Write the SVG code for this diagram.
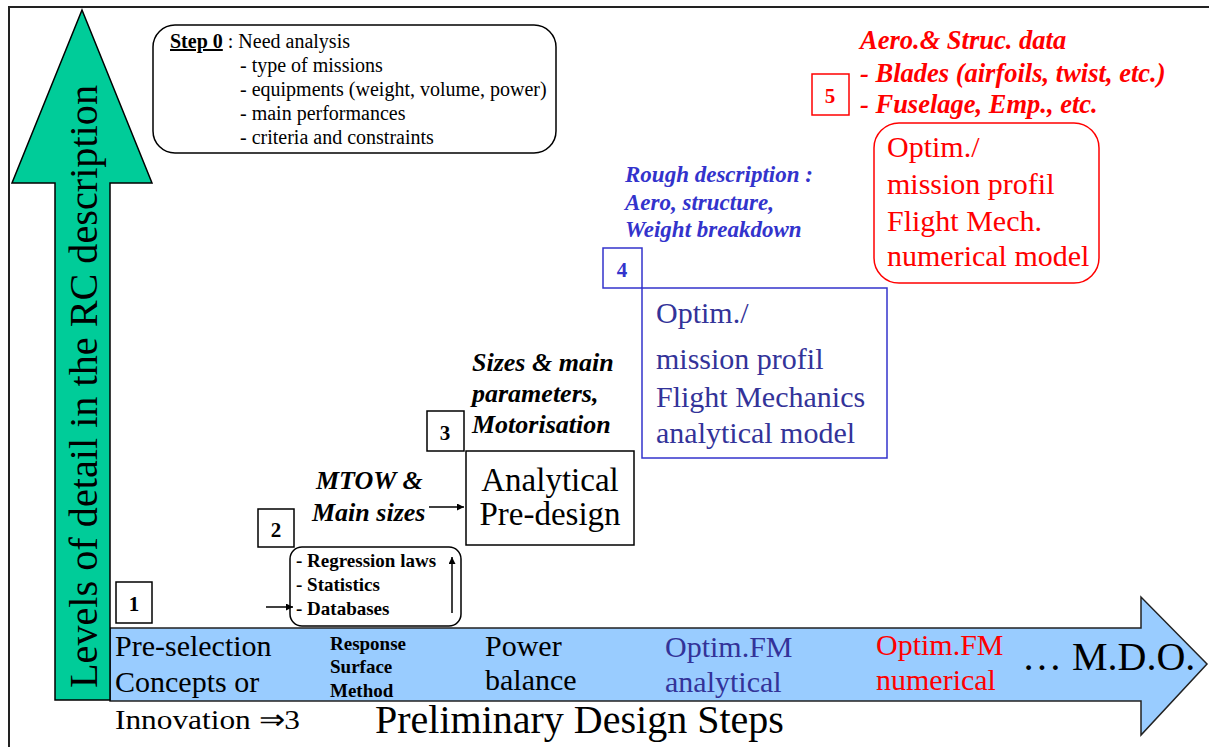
<svg xmlns="http://www.w3.org/2000/svg" width="1209" height="747" viewBox="0 0 1209 747" font-family="Liberation Serif, Times New Roman, serif">
  <style>
    .small { font-size: 20px; fill: #000; }
    .num { font-size: 21px; font-weight: bold; text-anchor: middle; }
    .bi { font-weight: bold; font-style: italic; }
    .big { font-size: 30px; }
    .blue { fill: #333399; }
    .red { fill: #ff0000; }
    .box { fill: #fff; stroke: #000; stroke-width: 1.5; }
    .conn { stroke: #000; stroke-width: 1.5; fill: none; }
  </style>
  <defs>
    <marker id="head" viewBox="0 0 10 10" refX="10" refY="5" markerWidth="7" markerHeight="7" orient="auto" markerUnits="userSpaceOnUse">
      <path d="M0,0 L10,5 L0,10 z" fill="#000"/>
    </marker>
  </defs>

  <rect width="1209" height="747" fill="#fff"/>
  <!-- page frame -->
  <rect x="9" y="7" width="1220" height="760" fill="none" stroke="#222" stroke-width="2"/>

  <!-- horizontal axis: design steps -->
  <g id="axis-steps">
    <polygon points="110,628 1141,628 1141,597 1207,664 1141,735 1141,701 110,701" fill="#99ccff" stroke="#222" stroke-width="1.5"/>
    <text x="115" y="656" class="big">Pre-selection</text>
    <text x="115" y="692" class="big">Concepts or</text>
    <text x="115" y="729" font-size="28" textLength="185" lengthAdjust="spacingAndGlyphs">Innovation ⇒3</text>
    <text x="330" y="650" font-size="19" font-weight="bold">Response</text>
    <text x="330" y="673" font-size="19" font-weight="bold">Surface</text>
    <text x="330" y="697" font-size="19" font-weight="bold">Method</text>
    <text x="485" y="656" class="big">Power</text>
    <text x="485" y="690" class="big">balance</text>
    <text x="665" y="657" class="big blue">Optim.FM</text>
    <text x="665" y="692" class="big blue">analytical</text>
    <text x="876" y="655" class="big red">Optim.FM</text>
    <text x="876" y="690" class="big red">numerical</text>
    <text x="1022" y="670" font-size="40">… M.D.O.</text>
    <text x="375" y="733" font-size="40">Preliminary Design Steps</text>
  </g>

  <!-- vertical axis: level of detail -->
  <g id="axis-detail">
    <polygon points="82,10 152,183 110,183 110,700 55,700 55,183 12,183" fill="#00cc99" stroke="#000" stroke-width="1.5"/>
    <text transform="translate(97,688) rotate(-90)" font-size="40" textLength="603" lengthAdjust="spacingAndGlyphs">Levels of detail in the RC description</text>
  </g>

  <!-- step 0 -->
  <g id="step0">
    <rect x="153" y="25" width="403" height="128" rx="22" class="box"/>
    <text x="170" y="48" class="small"><tspan font-weight="bold" text-decoration="underline">Step 0</tspan> : Need analysis</text>
    <text x="240" y="72" class="small">- type of missions</text>
    <text x="240" y="96" class="small">- equipments (weight, volume, power)</text>
    <text x="240" y="120" class="small">- main performances</text>
    <text x="240" y="144" class="small">- criteria and constraints</text>
  </g>

  <!-- step 1 -->
  <g id="step1">
    <rect x="116" y="582" width="36" height="41" class="box"/>
    <text x="134" y="611" class="num">1</text>
  </g>

  <!-- step 2 -->
  <g id="step2">
    <rect x="258" y="509" width="36" height="38" class="box"/>
    <text x="276" y="537" class="num">2</text>
    <text x="316" y="489" class="bi" font-size="26">MTOW &amp;</text>
    <text x="312" y="521" class="bi" font-size="26">Main sizes</text>
  </g>

  <g id="regression">
    <rect x="290" y="547" width="171" height="79" rx="12" class="box"/>
    <text x="296" y="567" font-size="19" font-weight="bold">- Regression laws</text>
    <text x="296" y="591" font-size="19" font-weight="bold">- Statistics</text>
    <text x="296" y="615" font-size="19" font-weight="bold">- Databases</text>
  </g>

  <!-- step 3 -->
  <g id="step3">
    <rect x="427" y="411" width="37" height="40" class="box"/>
    <text x="445" y="440" class="num">3</text>
    <text x="472" y="371" class="bi" font-size="26">Sizes &amp; main</text>
    <text x="472" y="402" class="bi" font-size="26">parameters,</text>
    <text x="472" y="433" class="bi" font-size="26">Motorisation</text>
  </g>

  <g id="predesign">
    <rect x="466" y="451" width="168" height="94" class="box"/>
    <text x="550" y="491" font-size="33" text-anchor="middle">Analytical</text>
    <text x="550" y="525" font-size="33" text-anchor="middle">Pre-design</text>
  </g>

  <!-- step 4 -->
  <g id="step4">
    <rect x="603" y="248" width="39" height="40" fill="#fff" stroke="#3333cc" stroke-width="1.5"/>
    <text x="622" y="277" class="num" fill="#3333cc">4</text>
    <text x="625" y="182" class="bi" font-size="23" fill="#3333cc">Rough description :</text>
    <text x="625" y="210" class="bi" font-size="23" fill="#3333cc">Aero, structure,</text>
    <text x="625" y="237" class="bi" font-size="23" fill="#3333cc">Weight breakdown</text>
  </g>

  <g id="fm-analytical">
    <rect x="642" y="288" width="245" height="170" fill="#fff" stroke="#3333cc" stroke-width="1.5"/>
    <text x="656" y="323" class="big blue">Optim./</text>
    <text x="656" y="369" class="big blue">mission profil</text>
    <text x="656" y="407" class="big blue">Flight Mechanics</text>
    <text x="656" y="443" class="big blue">analytical model</text>
  </g>

  <!-- step 5 -->
  <g id="step5">
    <rect x="812" y="74" width="37" height="41" fill="#fff" stroke="#ff0000" stroke-width="1.5"/>
    <text x="830" y="103" class="num red">5</text>
    <text x="860" y="49" class="bi red" font-size="26.5">Aero.&amp; Struc. data</text>
    <text x="860" y="82" class="bi red" font-size="26.5">- Blades (airfoils, twist, etc.)</text>
    <text x="860" y="113" class="bi red" font-size="26.5">- Fuselage, Emp., etc.</text>
  </g>

  <g id="fm-numerical">
    <rect x="874" y="123" width="225" height="160" rx="25" fill="#fff" stroke="#ff0000" stroke-width="1.5"/>
    <text x="887" y="157" class="big red">Optim./</text>
    <text x="887" y="194" class="big red">mission profil</text>
    <text x="887" y="231" class="big red">Flight Mech.</text>
    <text x="887" y="266" class="big red">numerical model</text>
  </g>

  <!-- connectors -->
  <g id="connectors">
    <line x1="266" y1="607" x2="293" y2="607" class="conn" marker-end="url(#head)"/>
    <line x1="452" y1="613" x2="452" y2="557" class="conn" marker-end="url(#head)"/>
    <line x1="429" y1="507" x2="464" y2="507" class="conn" marker-end="url(#head)"/>
  </g>
</svg>
